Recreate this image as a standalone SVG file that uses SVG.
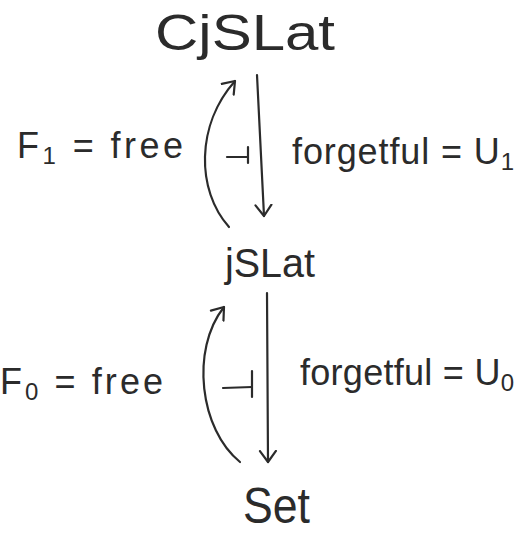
<svg xmlns="http://www.w3.org/2000/svg" width="524" height="534" viewBox="0 0 524 534">
<defs>
<style>
.t{font-family:"Liberation Sans","DejaVu Sans",sans-serif;fill:#2b2b2b;}
.n{font-size:50px;}
.l{font-size:36px;}
.s{font-size:24px;}
.c{fill:none;stroke:#2b2b2b;stroke-width:2.2;stroke-linecap:round;stroke-linejoin:round;}
</style>
<marker id="hd" viewBox="-12 -10 14 20" refX="0" refY="0" markerWidth="14" markerHeight="20" markerUnits="userSpaceOnUse" orient="auto">
<path d="M -11 -8 L 0 0 L -11 8" fill="none" stroke="#2b2b2b" stroke-width="2.2" stroke-linecap="round" stroke-linejoin="round"/>
</marker>
</defs>
<rect width="524" height="534" fill="#ffffff"/>
<g id="node-cjslat"><text class="t n" x="155" y="50" textLength="180" lengthAdjust="spacingAndGlyphs">CjSLat</text></g>
<g id="node-jslat"><text class="t" x="225" y="277" font-size="40" textLength="90" lengthAdjust="spacingAndGlyphs">jSLat</text></g>
<g id="node-set"><text class="t n" x="243" y="523" textLength="67" lengthAdjust="spacingAndGlyphs">Set</text></g>
<g id="connectors">
<path class="c" d="M 229 227 C 196 190, 196 125, 235 81" marker-end="url(#hd)"/>
<path class="c" d="M 257 75 L 264 216" marker-end="url(#hd)"/>
<path class="c" d="M 227 157 L 248 157 M 248 147 L 248 163"/>
<path class="c" d="M 240 462 C 200 430, 190 350, 224 307" marker-end="url(#hd)"/>
<path class="c" d="M 267 293 L 268 462" marker-end="url(#hd)"/>
<path class="c" d="M 223 388 L 252 387" />
<path class="c" d="M 252 371 L 252 397" stroke-width="3.5"/>
</g>
<g id="labels">
<text class="t l" x="17" y="158" textLength="166" lengthAdjust="spacing">F<tspan class="s" dy="6">1</tspan><tspan dy="-6"> = free</tspan></text>
<text class="t l" x="292" y="164" textLength="222" lengthAdjust="spacing">forgetful = U<tspan class="s" dy="6">1</tspan></text>
<text class="t l" x="0" y="394" textLength="163" lengthAdjust="spacing">F<tspan class="s" dy="6">0</tspan><tspan dy="-6"> = free</tspan></text>
<text class="t l" x="300" y="385" textLength="214" lengthAdjust="spacing">forgetful = U<tspan class="s" dy="6">0</tspan></text>
</g>
</svg>
